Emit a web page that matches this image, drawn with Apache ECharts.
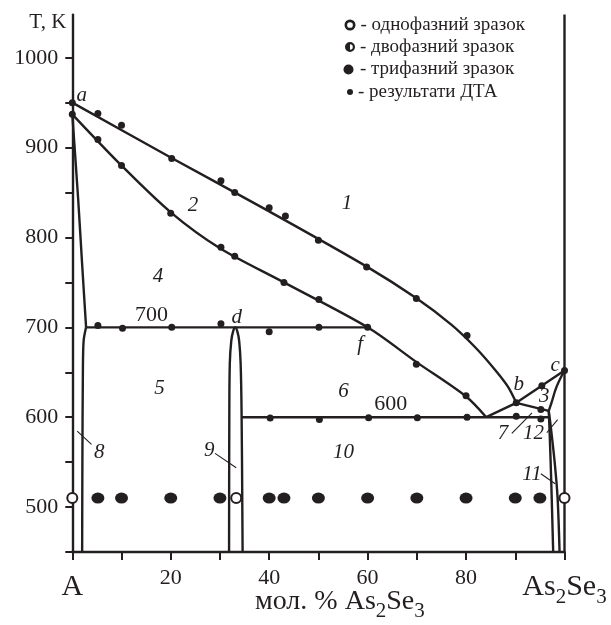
<!DOCTYPE html>
<html><head><meta charset="utf-8">
<script src="https://cdn.jsdelivr.net/npm/echarts@6/dist/echarts.min.js"></script>
<style>html,body{margin:0;padding:0;background:#fff}#c{width:611px;height:625px}</style>
</head><body><div id="c"></div>
<script>
// ---------- data (mol.% As2Se3, T in K) ----------
const upperLiquidus = [[0,950],[20,889],[40,829],[60,767],[70,732],[77,703],[82,677],[86,652],[88.5,634],[90.2,616]];
const lowerLiquidus = [[0,937],[10,880],[20,828],[30,788],[43,750],[60,700],[70,661],[80,623],[84.1,600]];
const solidusA = [[0,937],[1.2,842],[2.0,770],[2.8,700]];
const solvusA = [[2.8,700],[2.3,685],[2.15,650],[2.05,550],[2.0,450]];
const line700 = [[2.8,700],[60,700]];
const dome = [[31.85,450],[31.9,600],[32.0,660],[32.3,685],[32.7,696],[33.1,700],[33.5,696],[33.9,685],[34.2,660],[34.4,600],[34.6,450]];
const line600 = [[34.4,600],[97,600]];
const eutecticToB = [[84.1,600],[90.2,616]];
const bToC = [[90.2,616],[100,652]];
const bToJ = [[90.2,616],[96.8,607]];
const cToJ = [[100,652],[98.4,634],[97.3,615],[96.8,607]];
const solvusLeft = [[96.8,607],[97.0,580],[97.3,530],[97.7,450]];
const solvusRight = [[96.8,607],[97.2,590],[98.0,550],[98.6,510],[99.0,450]];
const pureAs2Se3 = [[100,450],[100,1048]];
const leaders = [
  [[1.0,584.4],[3.9,569.7]],
  [[29.0,559.7],[33.3,543.8]],
  [[89.3,581.9],[93.4,604.9]],
  [[96.4,582.7],[98.6,597.4]],
  [[95.2,537.1],[98.1,526.0]]
];
const dtaPoints = [[0,950],[0,937],[5.2,938],[10,925],[20.2,888],[30.2,863],[33,850],[40,833],[43.3,824],[50,797],[59.8,767],[69.9,732],[80.2,691],
  [5.2,909],[10,880],[20,827],[30.2,789],[33,779],[43,750],[50.1,731],[60,700],[69.9,659],[80,624],
  [5.2,702],[10.2,699],[20.2,700],[30.2,704],[40,695],[50.1,700],
  [40.2,599],[50.2,597.5],[60.2,599.3],[70.1,599.3],[80.2,600],[90.2,601],[95.2,598],
  [90.2,616],[95.4,635],[95.2,608.6],[100,652]];
const sampleT = 510;
const singlePhase = [0,33.3,100];
const twoPhase = [];
const threePhase = [5.2,10,20,30,40,43,50,60,70,80,90,95];
const italicLabels = [[1.9,958,'a'],[55.8,838,'1'],[24.5,836,'2'],[95.9,623,'3'],[17.4,757,'4'],[17.7,632,'5'],[55.1,629,'6'],[87.5,582,'7'],[5.5,561,'8'],[27.8,563,'9'],[55.1,561,'10'],[93.4,536,'11'],[93.7,582,'12'],[90.7,636,'b'],[98.1,657,'c'],[33.4,711,'d'],[58.5,681,'f']];
const plainLabels = [[16.1,713,'700'],[64.7,614,'600']];
const xTickValues = [0,10,20,30,40,50,60,70,80,90,100];
const xLabelValues = [0,20,40,60,80,100];
const xLabelTexts = ['A','20','40','60','80','As2Se3'];
const yTickValues = [450,500,550,600,650,700,750,800,850,900,950,1000];
const yLabelValues = [500,600,700,800,900,1000];
const legendNames = ['однофазний зразок','двофазний зразок','трифазний зразок','результати ДТА'];

// ---------- chart ----------
const INK = '#231f20';
const FONT = 'Liberation Serif';
function curve(data, smooth) {
  return {type:'line', data:data, symbol:'none', silent:true, smooth:smooth||false,
    lineStyle:{color:INK, width:2.4}, z:3, animation:false};
}
function subFmt(t) {
  if (t === 'As2Se3') return '{b|As}{bs|2}{b|Se}{bs|3}';
  if (t === 'A') return '{b|A}';
  return t;
}
const ring = 'path://M0,50A50,50 0 1,1 100,50A50,50 0 1,1 0,50Z M24,50A26,26 0 1,0 76,50A26,26 0 1,0 24,50Z';
const half = 'path://M0,50A50,50 0 1,1 100,50A50,50 0 1,1 0,50Z M22,50A28,28 0 1,0 78,50A28,28 0 1,0 22,50Z M50,22A28,28 0 0,0 50,78Z';
const ellipse = 'path://M0,50A50,50 0 1,1 100,50A50,50 0 1,1 0,50Z';

const series = [
  curve(upperLiquidus, 0.3), curve(lowerLiquidus, 0.3), curve(solidusA, 0.2), curve(solvusA, 0.3),
  curve(line700), curve(dome, 0.4), curve(line600), curve(eutecticToB), curve(bToC), curve(bToJ),
  curve(cToJ, 0.4), curve(solvusLeft, 0.3), curve(solvusRight, 0.3), curve(pureAs2Se3)
];
leaders.forEach(l => series.push({type:'line', data:l, symbol:'none', silent:true, lineStyle:{color:INK, width:1.1}, z:3, animation:false}));
series.push({name:legendNames[3], type:'scatter', data:dtaPoints, symbol:'circle', symbolSize:7, itemStyle:{color:INK, opacity:1}, z:5, animation:false});
series.push({name:legendNames[2], type:'scatter', data:threePhase.map(p=>[p,sampleT]), symbol:ellipse, symbolSize:[13,11], itemStyle:{color:INK, opacity:1}, z:5, animation:false});
series.push({name:legendNames[1], type:'scatter', data:twoPhase.map(p=>[p,sampleT]), symbol:half, symbolSize:10, itemStyle:{color:INK, opacity:1}, z:5, animation:false});
series.push({name:legendNames[0], type:'scatter', data:singlePhase.map(p=>[p,sampleT]), symbol:'circle', symbolSize:10, itemStyle:{color:'#fff', borderColor:INK, borderWidth:2, opacity:1}, z:6, animation:false});
series.push({type:'scatter', data:italicLabels, symbolSize:0, silent:true, animation:false, z:7, itemStyle:{opacity:1},
  label:{show:true, position:'inside', formatter:p=>p.data[2], fontFamily:FONT, fontStyle:'italic', fontSize:21, color:INK}});
series.push({type:'scatter', data:plainLabels, symbolSize:0, silent:true, animation:false, z:7, itemStyle:{opacity:1},
  label:{show:true, position:'inside', formatter:p=>p.data[2], fontFamily:FONT, fontSize:22, color:INK}});

const rows = [
  {name:legendNames[0], icon:ring, w:11, h:11, cy:25},
  {name:legendNames[1], icon:half, w:10, h:10, cy:47},
  {name:legendNames[2], icon:ellipse, w:13, h:10, cy:69.5},
  {name:legendNames[3], icon:'circle', w:6, h:6, cy:92}
];
const legends = rows.map(r => ({
  data:[{name:r.name, icon:r.icon}], left:350 - r.w/2, top:r.cy - 10, padding:0,
  itemWidth:r.w, itemHeight:r.h, selectedMode:false, formatter:'- {name}',
  itemStyle:{color:INK, borderWidth:0, opacity:1},
  textStyle:{fontFamily:FONT, fontSize:19, lineHeight:20, color:INK}
}));

const chart = echarts.init(document.getElementById('c'), null, {renderer:'canvas'});
chart.setOption({
  animation:false,
  backgroundColor:'#fff',
  grid:{left:72.3, right:46.5, top:14.6, bottom:73, containLabel:false, outerBoundsMode:'none'},
  legend:legends,
  xAxis:{type:'value', min:0, max:100, interval:10,
    axisLine:{lineStyle:{color:INK, width:2.4}},
    axisTick:{show:true, length:8, lineStyle:{color:INK, width:2}, customValues:xTickValues},
    splitLine:{show:false},
    axisLabel:{customValues:xLabelValues, margin:15.6, fontFamily:FONT, fontSize:22, color:INK,
      formatter:v => subFmt(xLabelTexts[xLabelValues.indexOf(v)]),
      rich:{b:{fontFamily:FONT, fontSize:30, color:INK, verticalAlign:'top', padding:[5,0,0,0]},
            bs:{fontFamily:FONT, fontSize:21, color:INK, verticalAlign:'top', padding:[19,0,0,0]}}},
    name:'{n|мол. % As}{s|2}{n|Se}{s|3}', nameLocation:'middle', nameGap:35.5, nameMoveOverlap:false,
    nameTextStyle:{padding:[0,0,0,43], verticalAlign:'top',
      rich:{n:{fontFamily:FONT, fontSize:28, color:INK, verticalAlign:'top'},
            s:{fontFamily:FONT, fontSize:21, color:INK, verticalAlign:'top', padding:[13,0,0,0]}}}
  },
  yAxis:{type:'value', min:450, max:1048, interval:50,
    axisLine:{show:true, lineStyle:{color:INK, width:2.4}},
    axisTick:{show:true, length:7, lineStyle:{color:INK, width:2}, customValues:yTickValues},
    splitLine:{show:false},
    axisLabel:{customValues:yLabelValues, margin:14, fontFamily:FONT, fontSize:22, color:INK, formatter:v => String(v)},
    name:'T, K', nameLocation:'end', nameGap:-7.5, nameMoveOverlap:false,
    nameTextStyle:{fontFamily:FONT, fontSize:21, color:INK, align:'right', verticalAlign:'middle', padding:[0,6,0,0]}
  },
  series:series
});
</script></body></html>
